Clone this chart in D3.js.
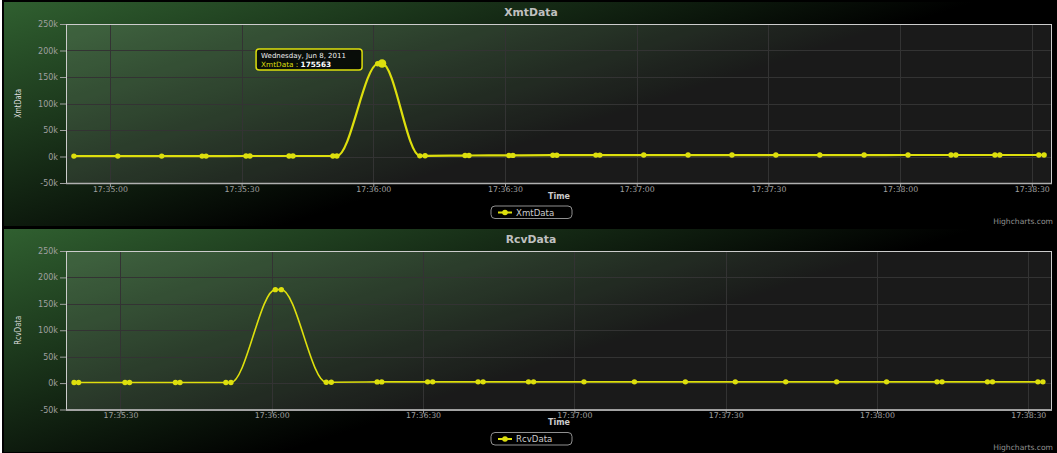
<!DOCTYPE html>
<html>
<head>
<meta charset="utf-8">
<script src="https://cdn.jsdelivr.net/npm/d3@7"></script>
<style>
  html, body { margin: 0; padding: 0; background: #ffffff; }
  svg { display: block; }
  text { font-family: "DejaVu Sans", Verdana, sans-serif; }
</style>
</head>
<body>
<svg id="chart" width="1057" height="453"></svg>
<script>
// ---------------- data ----------------
const xmtTimes = ["17:34:51.8","17:35:01.8","17:35:11.8","17:35:21.0","17:35:21.9","17:35:31.0","17:35:31.9",
  "17:35:40.8","17:35:41.7","17:35:50.8","17:35:51.7","17:36:01.0","17:36:02.0","17:36:10.6","17:36:11.8",
  "17:36:20.9","17:36:21.8","17:36:30.9","17:36:31.8","17:36:40.9","17:36:41.8","17:36:50.7","17:36:51.6",
  "17:37:01.6","17:37:11.7","17:37:21.7","17:37:31.7","17:37:41.7","17:37:51.8","17:38:01.8","17:38:11.6",
  "17:38:12.7","17:38:21.6","17:38:22.7","17:38:31.6","17:38:32.8"];
const xmtValues = [800, 800, 800, 800, 800, 900, 900, 900, 900, 900, 900, 175000, 175563, 1200, 1300,
  1800, 1900, 2000, 2100, 2500, 2500, 2600, 2600, 2700, 2700, 2700, 2700, 2700, 2700, 2800, 2800,
  2800, 2800, 2800, 2800, 2800];

const rcvTimes = ["17:35:20.8","17:35:21.7","17:35:30.9","17:35:31.8","17:35:40.9","17:35:41.8","17:35:50.9",
  "17:35:51.9","17:36:00.7","17:36:01.9","17:36:10.8","17:36:11.8","17:36:20.9","17:36:21.8","17:36:30.9",
  "17:36:31.9","17:36:40.9","17:36:41.9","17:36:50.9","17:36:51.9","17:37:01.9","17:37:11.9","17:37:22.0",
  "17:37:31.9","17:37:41.9","17:37:52.0","17:38:01.9","17:38:11.9","17:38:12.9","17:38:21.9","17:38:22.9",
  "17:38:31.9","17:38:32.9"];
const rcvValues = [1000, 1000, 1000, 1000, 1000, 1000, 1000, 1000, 176800, 176800, 1500, 1600,
  2200, 2200, 2300, 2300, 2300, 2300, 2300, 2300, 2300, 2300, 2300, 2300, 2300, 2300, 2300, 2300,
  2300, 2300, 2300, 2300, 2300];

const xmtTickLabels = ["17:35:00","17:35:30","17:36:00","17:36:30","17:37:00","17:37:30","17:38:00","17:38:30"];
const rcvTickLabels = ["17:35:30","17:36:00","17:36:30","17:37:00","17:37:30","17:38:00","17:38:30"];
const yTickValues = [-50000, 0, 50000, 100000, 150000, 200000, 250000];
const xmtDomain = ["17:34:50.0", "17:38:34.6"];
const rcvDomain = ["17:35:19.2", "17:38:34.7"];
const tooltipDate = "Wednesday, Jun 8, 2011";

// ---------------- helpers ----------------
function parseT(s) {
  const [h, m, sec] = s.split(":");
  const d = new Date(2011, 5, 8, +h, +m, 0, 0);
  return new Date(d.getTime() + parseFloat(sec) * 1000);
}
const fmt = d3.timeFormat("%H:%M:%S");
const SERIES = "#DDDF0D";
const svg = d3.select("#chart");
const defs = svg.append("defs");

function drawChart(cfg) {
  const { id, name, times, values, tickLabels, domain, top, h, plot, lineW, hover } = cfg;
  const g = svg.append("g");

  // background gradient
  const grad = defs.append("linearGradient").attr("id", "bg" + id)
    .attr("gradientUnits", "userSpaceOnUse")
    .attr("x1", 3).attr("y1", top).attr("x2", 95).attr("y2", top + 285);
  grad.append("stop").attr("offset", 0).attr("stop-color", "rgb(48,96,48)");
  grad.append("stop").attr("offset", 1).attr("stop-color", "rgb(0,0,0)");
  g.append("rect").attr("x", 3).attr("y", top).attr("width", 1054).attr("height", h)
    .attr("fill", `url(#bg${id})`).attr("stroke", "#000").attr("stroke-width", 2);

  const x = d3.scaleTime().domain(domain.map(parseT)).range([plot.left, plot.right]);
  const y = d3.scaleLinear().domain([-50000, 250000]).range([plot.bottom, plot.top]);

  // plot background
  g.append("rect").attr("x", plot.left).attr("y", plot.top)
    .attr("width", plot.right - plot.left).attr("height", plot.bottom - plot.top)
    .attr("fill", "rgba(255,255,255,0.1)");

  const tickDates = tickLabels.map(parseT);

  // grid
  g.append("g").selectAll("line").data(yTickValues).join("line")
    .attr("x1", plot.left).attr("x2", plot.right)
    .attr("y1", d => Math.round(y(d)) + 0.5).attr("y2", d => Math.round(y(d)) + 0.5)
    .attr("stroke", "#333333").attr("stroke-width", 1);
  g.append("g").selectAll("line").data(tickDates).join("line")
    .attr("y1", plot.top).attr("y2", plot.bottom)
    .attr("x1", d => Math.round(x(d)) + 0.5).attr("x2", d => Math.round(x(d)) + 0.5)
    .attr("stroke", "#333333").attr("stroke-width", 1);

  // plot border
  g.append("rect").attr("x", plot.left + 0.5).attr("y", plot.top + 0.5)
    .attr("width", plot.right - plot.left - 1).attr("height", plot.bottom - plot.top)
    .attr("fill", "none").attr("stroke", "#CCCCCC").attr("stroke-width", 1);

  // y axis
  const yAxis = d3.axisLeft(y).tickValues(yTickValues).tickFormat(d => (d / 1000) + "k")
    .tickSize(6).tickPadding(2);
  const ya = g.append("g").attr("transform", `translate(${plot.left},0)`).call(yAxis);
  ya.select(".domain").remove();
  ya.selectAll("line").attr("stroke", "#A0A0A0");
  ya.selectAll("text").attr("fill", "#A0A0A0").attr("font-size", "8px")
    .attr("font-family", "DejaVu Sans, sans-serif");

  // x axis
  const xAxis = d3.axisBottom(x).tickValues(tickDates).tickFormat(fmt).tickSize(4).tickPadding(-1);
  const xa = g.append("g").attr("transform", `translate(0,${plot.bottom})`).call(xAxis);
  xa.select(".domain").remove();
  xa.selectAll("line").attr("stroke", "#A0A0A0");
  xa.selectAll("text").attr("fill", "#A0A0A0").attr("font-size", "7.8px")
    .attr("font-family", "DejaVu Sans, sans-serif");
  g.append("line").attr("x1", plot.left).attr("x2", plot.right)
    .attr("y1", plot.bottom + 0.5).attr("y2", plot.bottom + 0.5)
    .attr("stroke", "#B0B0B0").attr("stroke-width", 1.5);

  // titles
  g.append("text").attr("x", 531).attr("y", top + 14.5).attr("text-anchor", "middle")
    .attr("fill", "#C0C0C0").attr("font-size", "10.8px").attr("font-weight", "bold").text(name);
  const cy = (plot.top + plot.bottom) / 2;
  g.append("text").attr("transform", `translate(21,${cy}) rotate(-90)`).attr("text-anchor", "middle")
    .attr("fill", "#DDDDDD").attr("font-size", "8.5px").attr("textLength", 29)
    .attr("lengthAdjust", "spacingAndGlyphs").text(name);
  g.append("text").attr("x", (plot.left + plot.right) / 2).attr("y", plot.bottom + 15.5)
    .attr("text-anchor", "middle").attr("fill", "#CCCCCC").attr("font-size", "8px")
    .attr("font-weight", "bold").text("Time");

  // series
  const clipId = "clip" + id;
  defs.append("clipPath").attr("id", clipId).append("rect")
    .attr("x", plot.left).attr("y", plot.top - 6).attr("width", plot.right - plot.left)
    .attr("height", plot.bottom - plot.top + 6);
  const pts = times.map((t, i) => ({ t: parseT(t), v: values[i] }));
  const line = d3.line().x(d => x(d.t)).y(d => y(d.v)).curve(d3.curveMonotoneX);
  const sg = g.append("g").attr("clip-path", `url(#${clipId})`);
  sg.append("path").datum(pts).attr("d", line).attr("fill", "none")
    .attr("stroke", SERIES).attr("stroke-width", lineW);
  sg.selectAll("circle").data(pts).join("circle")
    .attr("cx", d => x(d.t)).attr("cy", d => y(d.v))
    .attr("r", (d, i) => (hover && i === hover.index) ? 4.2 : 2.7)
    .attr("fill", SERIES);

  // legend
  const ly = plot.bottom + 23;
  g.append("rect").attr("x", 491).attr("y", ly).attr("width", 81).attr("height", 12.5).attr("rx", 4)
    .attr("fill", "none").attr("stroke", "#909090").attr("stroke-width", 1);
  g.append("line").attr("x1", 498).attr("x2", 512).attr("y1", ly + 6.5).attr("y2", ly + 6.5)
    .attr("stroke", SERIES).attr("stroke-width", 2);
  g.append("circle").attr("cx", 505).attr("cy", ly + 6.5).attr("r", 2.8).attr("fill", SERIES);
  g.append("text").attr("x", 516).attr("y", ly + 9.5).attr("fill", "#CCCCCC")
    .attr("font-size", "8.6px").text(name);

  // credits
  g.append("text").attr("x", 1053).attr("y", top + h - 3).attr("text-anchor", "end")
    .attr("fill", "#909090").attr("font-size", "7.6px").text("Highcharts.com");

  // tooltip
  if (hover) {
    const p = pts[hover.index];
    const px = x(p.t), py = y(p.v);
    const bx = px - 126, by = py - 14.5;
    const tg = g.append("g");
    tg.append("rect").attr("x", bx).attr("y", by).attr("width", 106).attr("height", 21).attr("rx", 3)
      .attr("fill", "rgba(0,0,0,0.8)").attr("stroke", SERIES).attr("stroke-width", 1.5);
    tg.append("text").attr("x", bx + 5).attr("y", by + 9).attr("fill", "#F0F0F0")
      .attr("font-size", "7px").text(tooltipDate);
    const t2 = tg.append("text").attr("x", bx + 5).attr("y", by + 17.6).attr("font-size", "7.3px");
    t2.append("tspan").attr("fill", SERIES).text(name + " : ");
    t2.append("tspan").attr("fill", "#FFFFFF").attr("font-weight", "bold").text(String(p.v));
  }
}

drawChart({
  id: 1, name: "XmtData", times: xmtTimes, values: xmtValues, tickLabels: xmtTickLabels,
  domain: xmtDomain, top: 1, h: 226,
  plot: { left: 66, right: 1052, top: 24, bottom: 183 }, lineW: 2.2, hover: { index: 12 }
});
drawChart({
  id: 2, name: "RcvData", times: rcvTimes, values: rcvValues, tickLabels: rcvTickLabels,
  domain: rcvDomain, top: 228, h: 225,
  plot: { left: 66, right: 1052, top: 251, bottom: 409.5 }, lineW: 1.6, hover: null
});
</script>
</body>
</html>
